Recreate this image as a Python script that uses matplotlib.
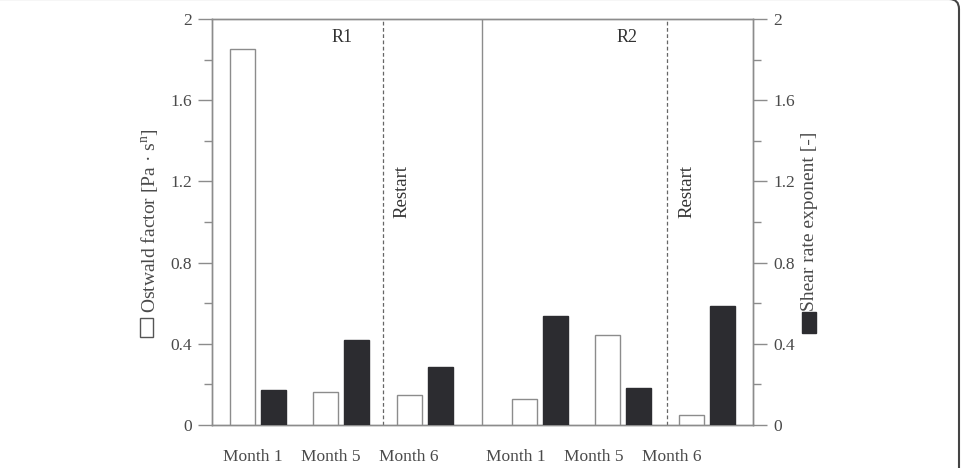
import numpy as np
import matplotlib
matplotlib.use("Agg")
import matplotlib.pyplot as plt
from matplotlib.ticker import MultipleLocator, FuncFormatter
from matplotlib.patches import FancyBboxPatch, Rectangle
from matplotlib.transforms import IdentityTransform

# data
months = ["Month 1", "Month 5", "Month 6"]
r1_ostwald = [1.85, 0.161, 0.149]
r1_shear = [0.172, 0.418, 0.287]
r2_ostwald = [0.126, 0.443, 0.048]
r2_shear = [0.538, 0.182, 0.585]

plt.rcParams['font.family'] = ['Liberation Serif', 'DejaVu Serif']
plt.rcParams['mathtext.fontset'] = 'custom'
plt.rcParams['mathtext.rm'] = 'Liberation Serif'
plt.rcParams['mathtext.it'] = 'Liberation Serif'

TXT = '#4a4a4a'
GRID = '#8c8c8c'
DARK = '#2c2c30'

fig = plt.figure(figsize=(9.61, 4.68), dpi=100)
ax = fig.add_axes([0.2206, 0.0919, 0.5630, 0.8675])
ax2 = ax.twinx()

r2_shift = 3.385
x1 = np.arange(3)
x2 = np.arange(3) + r2_shift
w = 0.30
off = 0.186

ax.bar(x1 - off, r1_ostwald, w, color='white', edgecolor=GRID, lw=1, zorder=3)
ax.bar(x2 - off, r2_ostwald, w, color='white', edgecolor=GRID, lw=1, zorder=3)
ax2.bar(x1 + off, r1_shear, w, color=DARK, edgecolor=DARK, lw=1, zorder=3)
ax2.bar(x2 + off, r2_shear, w, color=DARK, edgecolor=DARK, lw=1, zorder=3)

for a in (ax, ax2):
    a.set_xlim(-0.552, 5.942)
    a.set_ylim(0, 2)
    a.yaxis.set_major_locator(MultipleLocator(0.4))
    a.yaxis.set_minor_locator(MultipleLocator(0.2))
    a.yaxis.set_major_formatter(FuncFormatter(lambda v, p: f'{v:g}'))
    a.tick_params(axis='y', which='major', length=10, width=1, color=GRID,
                  labelsize=12.5, labelcolor=TXT, pad=4.5, direction='out')
    a.tick_params(axis='y', which='minor', length=6, width=1, color=GRID, direction='out')
    for s in a.spines.values():
        s.set_color(GRID)
        s.set_linewidth(1)

# month labels under the groups
lab_pos = list(np.arange(3) * 0.936 - 0.06) + list(np.arange(3) * 0.936 + 3.10)
ax.set_xticks(lab_pos)
ax.set_xticklabels(months + months)
ax.tick_params(axis='x', length=0, labelsize=12.5, labelcolor=TXT, pad=17)

# separators
ax.axvline(2.69, color=GRID, lw=1, zorder=2)
ax.axvline(1.50, color='#666666', lw=0.9, ls=(0, (3, 2)), zorder=2)
ax.axvline(4.91, color='#666666', lw=0.9, ls=(0, (3, 2)), zorder=2)

ax.text(1.01, 1.91, 'R1', ha='center', va='center', fontsize=13, color='#333333')
ax.text(4.43, 1.91, 'R2', ha='center', va='center', fontsize=13, color='#333333')
ax.text(1.73, 1.148, 'Restart', rotation=90, ha='center', va='center', fontsize=13.5, color='#333333')
ax.text(5.15, 1.148, 'Restart', rotation=90, ha='center', va='center', fontsize=13.5, color='#333333')

# axis titles with their legend boxes
fig.text(150 / 961, 1 - 221 / 468, 'Ostwald factor [Pa · s$^{\\mathrm{n}}$]',
         rotation=90, ha='center', va='center', fontsize=14, color=TXT)
fig.text(810 / 961, 1 - 221 / 468, 'Shear rate exponent [-]',
         rotation=90, ha='center', va='center', fontsize=14, color=TXT)
fig.add_artist(Rectangle((140 / 961, 1 - 337 / 468), 13 / 961, 19 / 468,
                         transform=fig.transFigure, facecolor='white',
                         edgecolor='#555555', lw=1))
fig.add_artist(Rectangle((802 / 961, 1 - 333 / 468), 14 / 961, 21 / 468,
                         transform=fig.transFigure, facecolor=DARK,
                         edgecolor=DARK, lw=1))

# card border visible at the right edge
fig.patches.append(FancyBboxPatch((-10, -10), 969, 479,
                                  boxstyle="round,pad=0,rounding_size=10",
                                  transform=IdentityTransform(), fill=False,
                                  edgecolor='#444444', lw=1.5))

fig.savefig('out.png', dpi=100)
